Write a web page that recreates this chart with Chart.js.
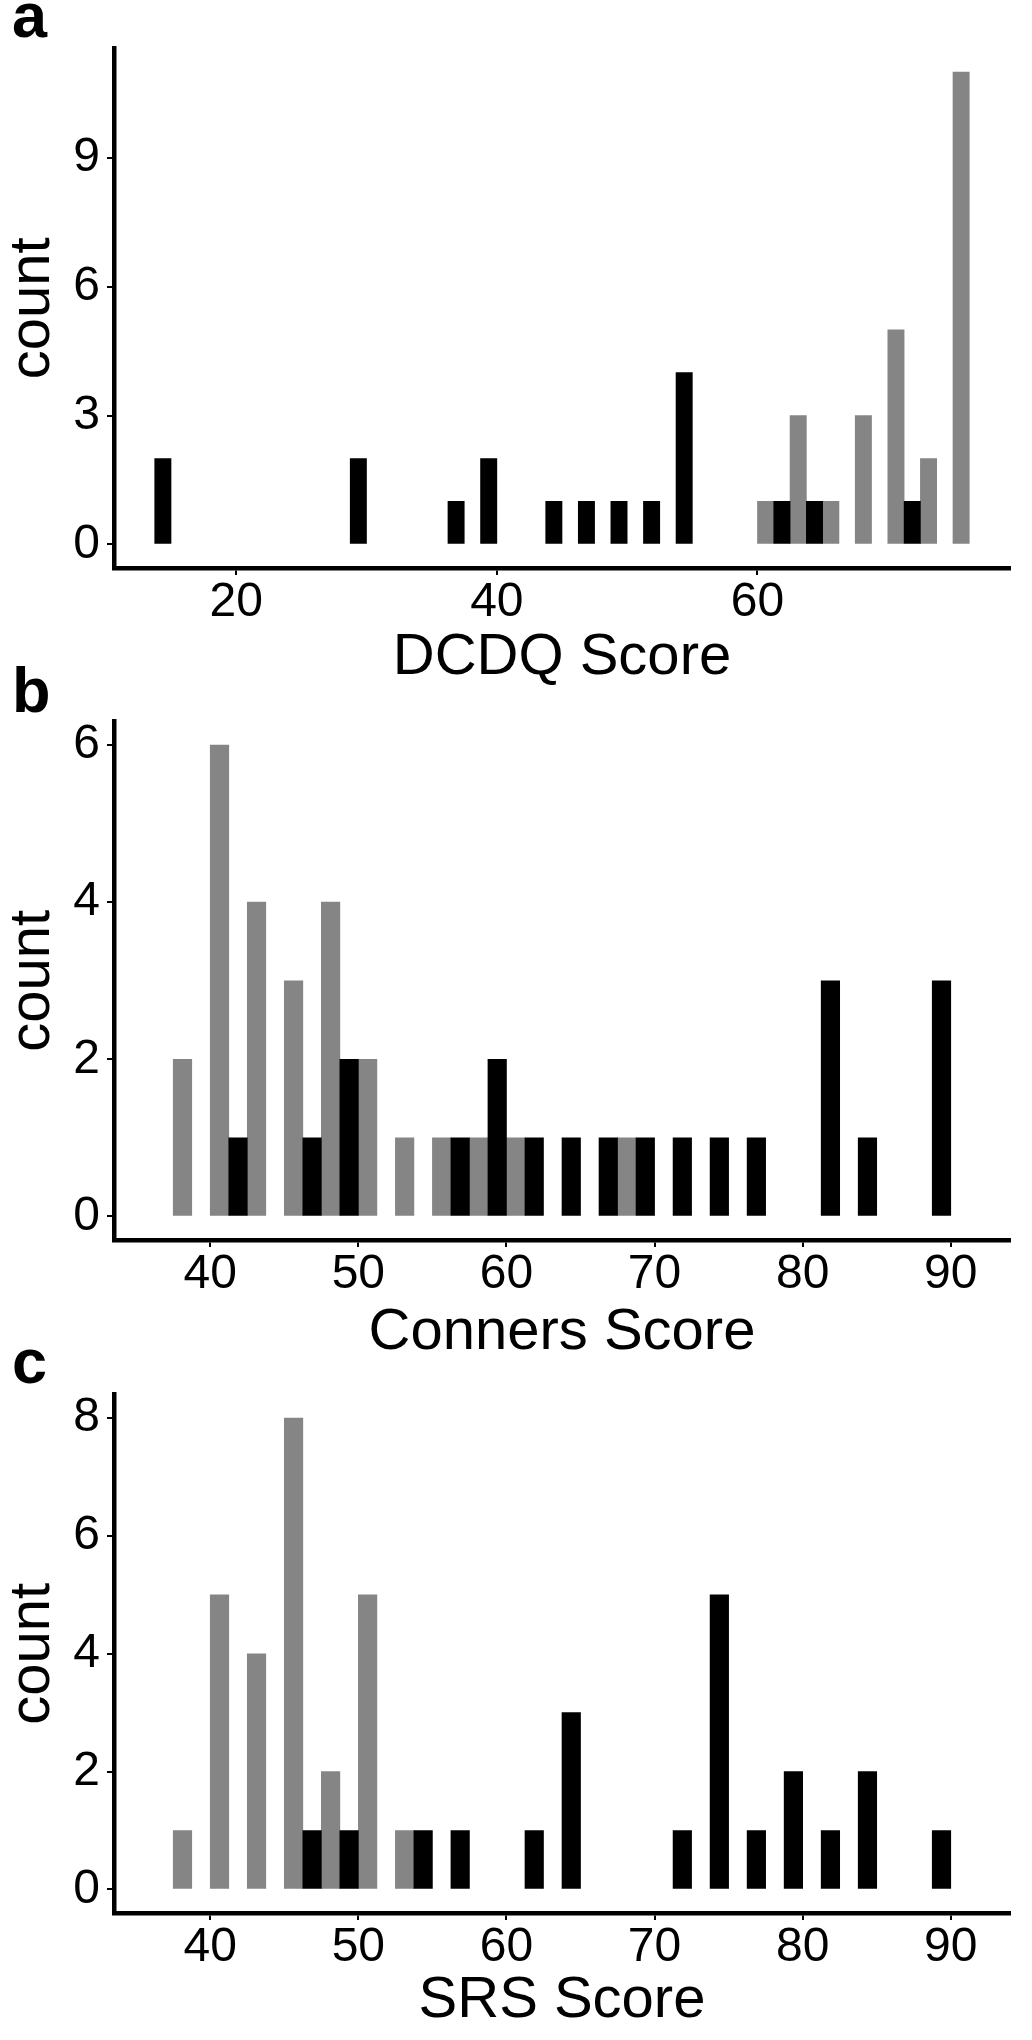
<!DOCTYPE html>
<html>
<head>
<meta charset="utf-8">
<script src="https://cdn.jsdelivr.net/npm/chart.js@4.4.1/dist/chart.umd.min.js"></script>
<style>
  body { margin: 0; background: #fff; }
  #figura { position: relative; width: 1032px; height: 2040px; font-family: 'Liberation Sans', Arial, sans-serif; }
  canvas { position: absolute; left: 0; }
  .letra { position: absolute; left: 12px; font-weight: bold; font-size: 63px; line-height: 63px; color: #000; }
</style>
</head>
<body>
<div id="figura">
  <canvas id="graficoA" width="1032" height="687" style="top:0px"></canvas>
  <canvas id="graficoB" width="1032" height="675" style="top:687px"></canvas>
  <canvas id="graficoC" width="1032" height="668" style="top:1362px"></canvas>
  <div class="letra" style="top:-16px">a</div>
  <div class="letra" style="top:659px">b</div>
  <div class="letra" style="top:1330px">c</div>
</div>
<script>
// Centros de clase (ancho 2.5) y conteos
const dcdqNegroX = [15, 30, 37.5, 40, 45, 47.5, 50, 52.5, 55, 62.5, 65, 72.5];
const dcdqNegroY = [2, 2, 1, 2, 1, 1, 1, 1, 4, 1, 1, 1];
const dcdqGrisX = [60, 62.5, 65, 67.5, 70, 72.5, 75];
const dcdqGrisY = [1, 3, 1, 3, 5, 2, 11];

const connersNegroX = [42.5, 47.5, 50, 57.5, 60, 62.5, 65, 67.5, 70, 72.5, 75, 77.5, 82.5, 85, 90];
const connersNegroY = [1, 1, 2, 1, 2, 1, 1, 1, 1, 1, 1, 1, 3, 1, 3];
const connersGrisX = [37.5, 40, 42.5, 45, 47.5, 50, 52.5, 55, 57.5, 60, 67.5];
const connersGrisY = [2, 6, 4, 3, 4, 2, 1, 1, 1, 1, 1];

const srsNegroX = [47.5, 50, 55, 57.5, 62.5, 65, 72.5, 75, 77.5, 80, 82.5, 85, 90];
const srsNegroY = [1, 1, 1, 1, 1, 3, 1, 5, 1, 2, 1, 2, 1];
const srsGrisX = [37.5, 40, 42.5, 45, 47.5, 50, 52.5];
const srsGrisY = [1, 5, 4, 8, 2, 5, 1];

const ticksXA = [20, 40, 60];
const ticksXBC = [40, 50, 60, 70, 80, 90];
const ticksYA = [0, 3, 6, 9];
const ticksYB = [0, 2, 4, 6];
const ticksYC = [0, 2, 4, 6, 8];

const negro = '#000000';
const gris = '#858585';

Chart.defaults.font.family = "'Liberation Sans', Arial, sans-serif";
Chart.defaults.color = '#000';

function aPuntos(xs, ys) {
    return xs.map((x, i) => ({ x: x, y: ys[i] }));
}

function ejeComun(ticks, pad) {
    return {
        offset: false,
        afterBuildTicks: axis => { axis.ticks = ticks.map(v => ({ value: v })); },
        grid: { offset: false, drawOnChartArea: false, drawTicks: true, tickLength: 7, tickWidth: 2, tickColor: '#000', lineWidth: 2, color: '#000' },
        border: { display: true, color: '#000', width: 4.5 },
        ticks: { font: { size: 48, lineHeight: 1 }, padding: pad, maxRotation: 0, autoSkip: false, color: '#000' }
    };
}

function crearHistograma(idCanvas, p) {
    const ctx = document.getElementById(idCanvas).getContext('2d');
    const ejeX = ejeComun(p.ticksX, 4);
    const ejeY = ejeComun(p.ticksY, 7);
    return new Chart(ctx, {
        type: 'bar',
        data: {
            datasets: [
                { label: 'grupo1', data: aPuntos(p.negroX, p.negroY), backgroundColor: negro },
                { label: 'grupo2', data: aPuntos(p.grisX, p.grisY), backgroundColor: gris }
            ]
        },
        options: {
            responsive: false,
            animation: false,
            events: [],
            layout: { padding: { top: p.arriba, right: 22, left: 0, bottom: 0 } },
            datasets: { bar: { categoryPercentage: 1, barPercentage: 1, borderWidth: 0, grouped: true } },
            plugins: { legend: { display: false }, tooltip: { enabled: false } },
            scales: {
                x: Object.assign(ejeX, {
                    type: 'linear', min: p.minX, max: p.maxX,
                    afterFit: s => { s.height = p.altoEjeX; },
                    title: { display: true, text: p.tituloX, color: '#000', font: { size: 58, lineHeight: 1 }, padding: { top: 0, bottom: 0 } }
                }),
                y: Object.assign(ejeY, {
                    type: 'linear', min: p.minY, max: p.maxY,
                    afterFit: s => { s.width = 114; },
                    title: { display: true, text: 'count', color: '#000', font: { size: 58, lineHeight: 1 }, padding: { top: 4, bottom: 0 } }
                })
            }
        }
    });
}

crearHistograma('graficoA', {
    negroX: dcdqNegroX, negroY: dcdqNegroY, grisX: dcdqGrisX, grisY: dcdqGrisY,
    ticksX: ticksXA, ticksY: ticksYA, minX: 10.625, maxX: 79.375, minY: -0.55, maxY: 11.55,
    arriba: 48.5, altoEjeX: 119, tituloX: 'DCDQ Score'
});

crearHistograma('graficoB', {
    negroX: connersNegroX, negroY: connersNegroY, grisX: connersGrisX, grisY: connersGrisY,
    ticksX: ticksXBC, ticksY: ticksYB, minX: 33.5, maxX: 94, minY: -0.3, maxY: 6.3,
    arriba: 34.5, altoEjeX: 122, tituloX: 'Conners Score'
});

crearHistograma('graficoC', {
    negroX: srsNegroX, negroY: srsNegroY, grisX: srsGrisX, grisY: srsGrisY,
    ticksX: ticksXBC, ticksY: ticksYC, minX: 33.5, maxX: 94, minY: -0.4, maxY: 8.4,
    arriba: 32.5, altoEjeX: 117, tituloX: 'SRS Score'
});
</script>
</body>
</html>
